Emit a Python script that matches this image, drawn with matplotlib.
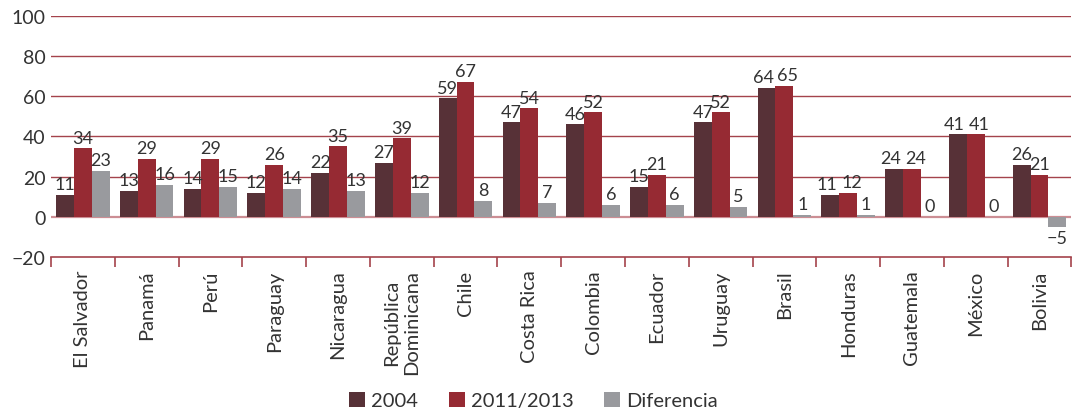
import matplotlib

matplotlib.use("Agg")
import matplotlib.pyplot as plt
import numpy as np

COUNTRIES = ["El Salvador", "Panamá", "Perú", "Paraguay", "Nicaragua",
             "República\nDominicana", "Chile", "Costa Rica", "Colombia", "Ecuador",
             "Uruguay", "Brasil", "Honduras", "Guatemala", "México", "Bolivia"]
V2004 = [11, 13, 14, 12, 22, 27, 59, 47, 46, 15, 47, 64, 11, 24, 41, 26]
V2011 = [34, 29, 29, 26, 35, 39, 67, 54, 52, 21, 52, 65, 12, 24, 41, 21]
DIFF = [23, 16, 15, 14, 13, 12, 8, 7, 6, 6, 5, 1, 1, 0, 0, -5]
SERIES = ["2004", "2011/2013", "Diferencia"]

C_2004 = "#573137"
C_2011 = "#962a33"
C_DIFF = "#999a9e"
GRID = "#a4434c"
INK = "#333333"

plt.rcParams.update({
    "font.family": ["Lato", "DejaVu Sans"],
    "font.size": 13,
})

fig = plt.figure(figsize=(10.73, 4.14), dpi=100)
ax = fig.add_axes([0.0475, 0.377, 0.951, 0.582])

x = np.arange(len(COUNTRIES))
w = 0.28
labels = []
for i, (vals, col, lab) in enumerate(zip([V2004, V2011, DIFF], [C_2004, C_2011, C_DIFF], SERIES)):
    b = ax.bar(x + (i - 1) * w, vals, width=w, color=col, label=lab, zorder=3)
    labels.append(ax.bar_label(b, labels=[str(v).replace("-", "\u2212") for v in vals],
                               padding=2, fontsize=13, color=INK, zorder=4))

# pull apart the two year labels where the bars are almost the same height
for k in range(len(COUNTRIES)):
    if abs(V2004[k] - V2011[k]) < 4:
        labels[0][k].xyann = (-2.5, 2)
        labels[1][k].xyann = (2.5, 2)

ax.set_xlim(-0.5, len(COUNTRIES) - 0.5)
ax.set_ylim(-20, 100)
ax.set_yticks(range(-20, 101, 20))
ax.set_yticklabels(["\u221220"] + [str(v) for v in range(0, 101, 20)], fontsize=14, color=INK)
for v in range(20, 101, 20):
    ax.axhline(v, color=GRID, lw=1, zorder=1)
ax.axhline(0, color="#cc8e94", lw=1.6, zorder=2)

for s in ["top", "right", "left"]:
    ax.spines[s].set_visible(False)
ax.spines["bottom"].set_color(GRID)
ax.spines["bottom"].set_linewidth(1.2)
ax.tick_params(axis="y", length=0, pad=4)

# boundaries between categories carry the ticks; labels sit in the middle
ax.set_xticks(np.arange(-0.5, len(COUNTRIES), 1.0))
ax.set_xticklabels([])
ax.tick_params(axis="x", length=7, color=GRID, width=1.2)
ax.set_xticks(x, minor=True)
ax.set_xticklabels(COUNTRIES, minor=True, rotation=90, fontsize=14.5, color=INK,
                   va="top", ha="center", multialignment="center")
ax.tick_params(axis="x", which="minor", length=0, pad=9)

fig.legend(loc="lower center", bbox_to_anchor=(0.497, -0.035), ncol=3, frameon=False,
           fontsize=14.5, handlelength=0.8, handleheight=0.8, handletextpad=0.3,
           columnspacing=1.5, labelcolor=INK)

fig.savefig("out.png", dpi=100, facecolor="white")
